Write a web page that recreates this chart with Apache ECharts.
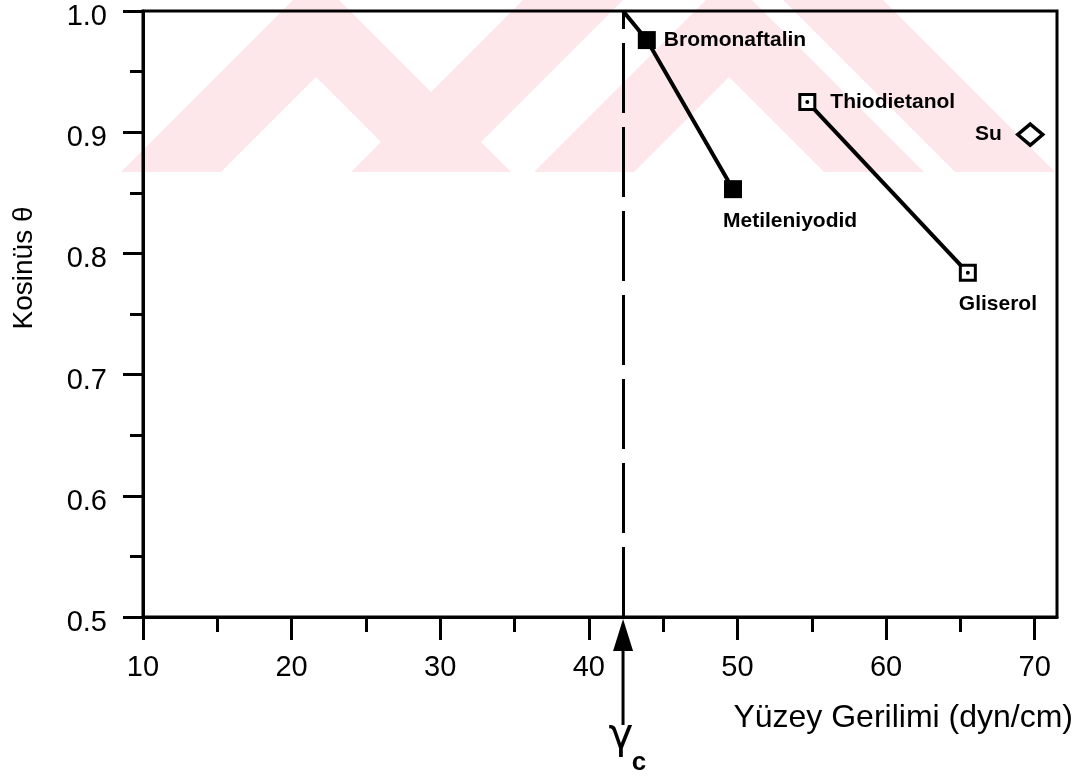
<!DOCTYPE html>
<html>
<head>
<meta charset="utf-8">
<script src="https://cdn.jsdelivr.net/npm/echarts@6/dist/echarts.min.js"></script>
<style>
  html, body { margin: 0; padding: 0; background: #fff; }
  #chart { width: 1084px; height: 777px; }
</style>
</head>
<body>
<div id="chart"></div>
<script>
// kritik yüzey gerilimi (gamma c)
const gammaC = 42.3;

// dolu kareler
const filledNames = ["Bromonaftalin", "Metileniyodid"];
const filledX = [43.9, 49.7];
const filledY = [0.976, 0.853];

// içi boş kareler
const openNames = ["Thiodietanol", "Gliserol"];
const openX = [54.7, 65.5];
const openY = [0.925, 0.784];

// su (eşkenar dörtgen)
const waterNames = ["Su"];
const waterX = [69.7];
const waterY = [0.898];

// eksen işaretleri
const xMajorTicks = [10, 20, 30, 40, 50, 60, 70];
const xMinorTicks = [15, 25, 35, 45, 55, 65];

const FONT = "Liberation Sans";

// etiket yerleri
const labelPos = {
  Bromonaftalin: { position: "right", distance: 8 },
  Metileniyodid: { position: [-1, 41], align: "left", verticalAlign: "middle" },
  Thiodietanol: { position: "right", distance: 14 },
  Gliserol: { position: [0, 40], align: "left", verticalAlign: "middle" },
  Su: { position: "left", distance: 14 }
};

const pts = (names, xs, ys) => names.map((n, i) => ({
  name: n,
  value: [xs[i], ys[i]],
  label: labelPos[n]
}));

const chart = echarts.init(document.getElementById("chart"));

const pointLabel = {
  show: true,
  formatter: "{b}",
  fontFamily: FONT,
  fontWeight: "bold",
  fontSize: 21,
  color: "#000"
};

// arka plandaki soluk pembe filigran
const PINK = "#fde7eb";
const wm = pts => ({ type: "polygon", z: -10, silent: true, shape: { points: pts }, style: { fill: PINK } });

chart.setOption({
  animation: false,
  backgroundColor: "#fff",
  grid: {
    left: 143, right: 27, top: 11, bottom: 160,
    show: true, borderColor: "#000", borderWidth: 3,
    outerBoundsMode: "none"
  },
  xAxis: [
    {
      type: "value", min: 10, max: 71.5,
      axisLine: { lineStyle: { color: "#000", width: 3 } },
      axisTick: { customValues: xMajorTicks, length: 23, lineStyle: { color: "#000", width: 3 } },
      axisLabel: {
        customValues: xMajorTicks, margin: 36,
        fontFamily: FONT, fontSize: 29, color: "#000"
      },
      splitLine: { show: false }
    },
    {
      type: "value", min: 10, max: 71.5, position: "bottom",
      axisLine: { show: false },
      axisTick: { customValues: xMinorTicks, length: 15, lineStyle: { color: "#000", width: 3 } },
      axisLabel: { show: false },
      splitLine: { show: false }
    }
  ],
  yAxis: {
    type: "value", min: 0.5, max: 1.0, interval: 0.1,
    axisLine: { show: true, lineStyle: { color: "#000", width: 3 } },
    axisTick: { show: true, length: 20, lineStyle: { color: "#000", width: 3 } },
    minorTick: { show: true, splitNumber: 2, length: 13, lineStyle: { color: "#000", width: 3 } },
    axisLabel: {
      margin: 36, fontFamily: FONT, fontSize: 29, color: "#000",
      verticalAlign: "top", lineHeight: 12,
      formatter: v => v.toFixed(1)
    },
    splitLine: { show: false }
  },
  series: [
    {
      type: "line",
      data: [[gammaC, 1.0]].concat(filledX.map((x, i) => [x, filledY[i]])),
      symbol: "none",
      lineStyle: { color: "#000", width: 4 },
      markLine: {
        silent: true, symbol: "none",
        label: { show: false },
        lineStyle: { color: "#000", width: 3, type: [70, 14] },
        data: [{ xAxis: gammaC }]
      },
      z: 2
    },
    {
      type: "line",
      data: openX.map((x, i) => [x, openY[i]]),
      symbol: "none",
      lineStyle: { color: "#000", width: 4 },
      z: 2
    },
    {
      type: "scatter",
      data: pts(filledNames, filledX, filledY),
      symbol: "rect", symbolSize: 18,
      itemStyle: { color: "#000", opacity: 1 },
      label: pointLabel,
      z: 3
    },
    {
      type: "scatter",
      data: pts(openNames, openX, openY),
      symbol: "rect", symbolSize: 15,
      itemStyle: { color: "#fff", borderColor: "#000", borderWidth: 3, opacity: 1 },
      label: pointLabel,
      z: 3
    },
    {
      type: "scatter",
      data: openX.map((x, i) => [x, openY[i]]),
      symbol: "circle", symbolSize: 4,
      itemStyle: { color: "#000", opacity: 1 },
      silent: true,
      z: 4
    },
    {
      type: "scatter",
      data: pts(waterNames, waterX, waterY),
      symbol: "diamond", symbolSize: [25, 21],
      itemStyle: { color: "#fff", borderColor: "#000", borderWidth: 3.5, opacity: 1 },
      label: pointLabel,
      z: 3
    }
  ]
});

// ok, gamma c ve eksen adları
const gx = chart.convertToPixel({ xAxisIndex: 0 }, gammaC);
const axisY = chart.convertToPixel({ yAxisIndex: 0 }, 0.5);

chart.setOption({
  graphic: [
    wm([[121, 172], [293, 0], [339, 0], [511, 172], [411, 172], [316, 77], [221, 172]]),
    wm([[351, 172], [523, 0], [623, 0], [451, 172]]),
    wm([[534, 172], [706, 0], [752, 0], [924, 172], [824, 172], [729, 77], [634, 172]]),
    wm([[783, 0], [883, 0], [1055, 172], [955, 172]]),
    {
      type: "line",
      shape: { x1: gx, y1: axisY + 30, x2: gx, y2: axisY + 108 },
      style: { stroke: "#000", lineWidth: 3 }
    },
    {
      type: "polygon",
      shape: { points: [[gx, axisY + 2], [gx - 10, axisY + 34], [gx + 10, axisY + 34]] },
      style: { fill: "#000" }
    },
    {
      type: "text", x: gx - 2, y: axisY + 120,
      style: { text: "γ", font: "42px 'DejaVu Sans'", fill: "#000", align: "center", verticalAlign: "middle" }
    },
    {
      type: "text", x: gx + 16, y: axisY + 146,
      style: { text: "c", font: "bold 26px " + FONT, fill: "#000", align: "center", verticalAlign: "middle" }
    },
    {
      type: "text", x: 1073, y: 718,
      style: { text: "Yüzey Gerilimi (dyn/cm)", font: "32px " + FONT, fill: "#000", align: "right", verticalAlign: "middle" }
    },
    {
      type: "text", x: 24, y: 268, rotation: Math.PI / 2,
      style: { text: "Kosinüs θ", font: "28px " + FONT, fill: "#000", align: "center", verticalAlign: "middle" }
    }
  ]
});
</script>
</body>
</html>
